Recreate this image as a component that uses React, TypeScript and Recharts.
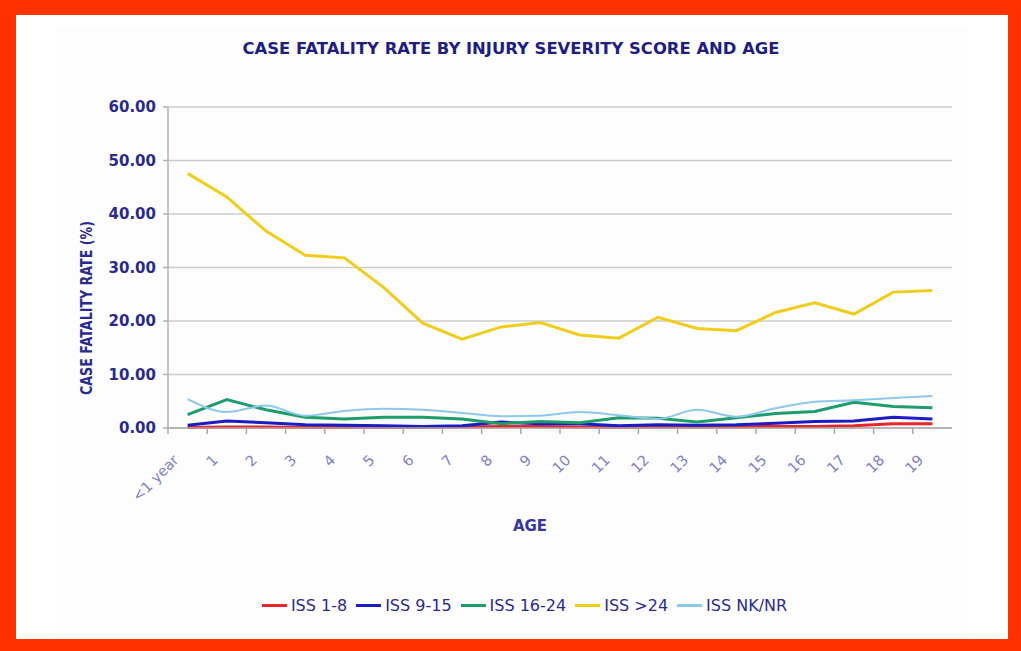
import React from 'react';
import { LineChart, Line, XAxis, YAxis, CartesianGrid } from 'recharts';

const ages = ['<1 year', '1', '2', '3', '4', '5', '6', '7', '8', '9', '10', '11', '12', '13', '14', '15', '16', '17', '18', '19'];
const iss1to8 = [0.1, 0.2, 0.2, 0.1, 0.1, 0.1, 0.1, 0.2, 0.3, 0.3, 0.2, 0.1, 0.2, 0.2, 0.2, 0.3, 0.3, 0.4, 0.8, 0.8];
const iss9to15 = [0.5, 1.3, 1.0, 0.6, 0.5, 0.4, 0.3, 0.4, 1.1, 0.8, 0.8, 0.4, 0.6, 0.5, 0.6, 0.9, 1.2, 1.3, 2.0, 1.7];
const iss16to24 = [2.5, 5.3, 3.4, 2.0, 1.7, 2.0, 2.0, 1.7, 0.8, 1.2, 1.0, 1.9, 1.8, 1.1, 1.9, 2.7, 3.1, 4.8, 4.0, 3.8];
const issOver24 = [47.6, 43.2, 36.8, 32.3, 31.8, 26.3, 19.6, 16.6, 18.9, 19.7, 17.4, 16.8, 20.7, 18.6, 18.2, 21.6, 23.4, 21.3, 25.4, 25.7];
const issNKNR = [5.4, 3.0, 4.2, 2.3, 3.2, 3.6, 3.4, 2.8, 2.2, 2.3, 3.0, 2.4, 1.7, 3.4, 2.1, 3.7, 4.9, 5.2, 5.6, 6.0];
const yTicks = [0, 10, 20, 30, 40, 50, 60];

const series = [
  { key: 'iss1to8', name: 'ISS 1-8', color: '#e8262a', width: 3, type: 'linear', values: iss1to8 },
  { key: 'iss9to15', name: 'ISS 9-15', color: '#1c1cc4', width: 3, type: 'linear', values: iss9to15 },
  { key: 'iss16to24', name: 'ISS 16-24', color: '#1f9c6c', width: 3, type: 'linear', values: iss16to24 },
  { key: 'issOver24', name: 'ISS >24', color: '#f0cd1c', width: 3, type: 'linear', values: issOver24 },
  { key: 'issNKNR', name: 'ISS NK/NR', color: '#8cc8ec', width: 2, type: 'monotone', values: issNKNR },
];

const data = ages.map((age, i) => {
  const row: any = { age };
  series.forEach((s) => { row[s.key] = s.values[i]; });
  return row;
});

const FONT = "'DejaVu Sans', Verdana, sans-serif";
const NAVY = '#2a2a8e';
const HALF = 19.6;

const XTick = (props: any) => {
  const { x, y, payload } = props;
  const tx = x - 8;
  const ty = y + 33;
  return (
    <g>
      <line x1={x - HALF} x2={x - HALF} y1={y} y2={y + 6} stroke="#a8a8a8" strokeWidth={1.5} />
      <text
        x={tx}
        y={ty}
        textAnchor="end"
        fontFamily={FONT}
        fontSize={14.5}
        fill="#8080c8"
        transform={`rotate(-45, ${tx}, ${ty})`}
      >
        {payload.value}
      </text>
    </g>
  );
};

export default function App() {
  return (
    <div style={{ position: 'absolute', left: 0, top: 0, width: 1021, height: 651, background: '#ff3300', overflow: 'hidden' }}>
      <div style={{ position: 'absolute', left: 16, top: 15, width: 992, height: 624, background: '#ffffff' }} />
      <div style={{ position: 'absolute', left: 55, top: 28, width: 913, height: 611, background: '#fdfdfe' }} />
      <div style={{ position: 'absolute', left: 0, top: 0 }}>
        <LineChart width={1021} height={651} data={data} margin={{ top: 107, right: 69, bottom: 163, left: 108 }}>
          <CartesianGrid vertical={false} stroke="#cccccc" strokeWidth={1.5} />
          <XAxis
            dataKey="age"
            padding={{ left: HALF, right: HALF }}
            height={60}
            tickSize={0}
            tickMargin={0}
            tickLine={false}
            interval={0}
            tick={<XTick />}
            axisLine={{ stroke: '#a8a8a8', strokeWidth: 1.5 }}
          />
          <XAxis xAxisId="top" orientation="top" dataKey="age" height={0} tick={false} tickLine={false} axisLine={{ stroke: '#a0a0a0', strokeWidth: 2 }} />
          <YAxis
            domain={[0, 60]}
            ticks={yTicks}
            width={60}
            tickSize={5}
            tickMargin={7}
            tickFormatter={(v: number) => v.toFixed(2)}
            tick={{ fill: NAVY, fontFamily: FONT, fontSize: 15, fontWeight: 'bold' }}
            axisLine={{ stroke: '#b0b0b0', strokeWidth: 1.5 }}
            tickLine={{ stroke: '#b0b0b0', strokeWidth: 1.5 }}
          />
          <YAxis yAxisId="right" orientation="right" width={0} domain={[0, 60]} tick={false} tickLine={false} axisLine={{ stroke: '#a0a0a0', strokeWidth: 2 }} />
          {series.map((s) => (
            <Line
              key={s.key}
              dataKey={s.key}
              name={s.name}
              type={s.type as any}
              stroke={s.color}
              strokeWidth={s.width}
              dot={false}
              activeDot={false}
              isAnimationActive={false}
            />
          ))}
          <text x={511} y={54} textAnchor="middle" fontFamily={FONT} fontWeight="bold" fontSize={16.5} fill="#1e1e80" textLength={537} lengthAdjust="spacingAndGlyphs">
            CASE FATALITY RATE BY INJURY SEVERITY SCORE AND AGE
          </text>
          <text x={92} y={308} textAnchor="middle" fontFamily={FONT} fontWeight="bold" fontSize={16} fill={NAVY} textLength={174} lengthAdjust="spacingAndGlyphs" transform="rotate(-90, 92, 308)">
            CASE FATALITY RATE (%)
          </text>
          <text x={530} y={531} textAnchor="middle" fontFamily={FONT} fontWeight="bold" fontSize={15} fill="#3636a0">
            AGE
          </text>
        </LineChart>
      </div>
      <div style={{ position: 'absolute', left: 0, top: 596, width: 1058, display: 'flex', justifyContent: 'center', fontFamily: FONT, fontSize: 16, color: NAVY }}>
        {series.map((s) => (
          <div key={s.key} style={{ display: 'flex', alignItems: 'center', marginRight: 9 }}>
            <div style={{ width: 25, height: 3, background: s.color, marginRight: 4 }} />
            <span>{s.name}</span>
          </div>
        ))}
      </div>
    </div>
  );
}
